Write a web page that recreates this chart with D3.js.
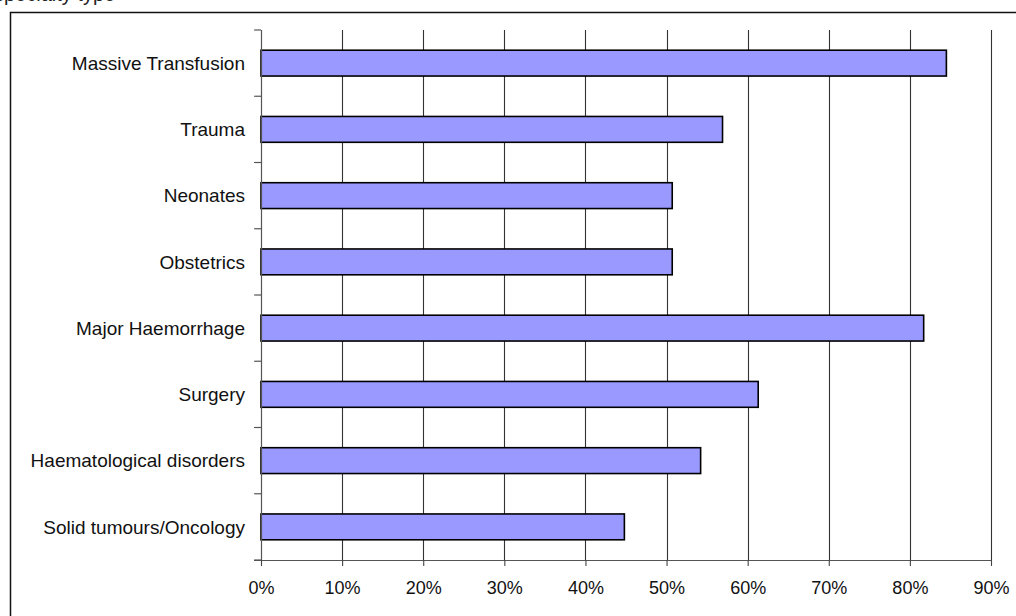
<!DOCTYPE html>
<html>
<head>
<meta charset="utf-8">
<script src="https://cdn.jsdelivr.net/npm/d3@7"></script>
<style>
  html, body { margin: 0; padding: 0; background: #fff; }
  svg { display: block; font-family: "Liberation Sans", Arial, sans-serif; }
</style>
</head>
<body>
<svg id="chart" width="1016" height="616"></svg>
<script>
// Share of responses per specialty
const categories = [
  "Massive Transfusion",
  "Trauma",
  "Neonates",
  "Obstetrics",
  "Major Haemorrhage",
  "Surgery",
  "Haematological disorders",
  "Solid tumours/Oncology"
];
const values = [84.5, 56.9, 50.7, 50.7, 81.7, 61.3, 54.2, 44.8];
const tickValues = [0, 10, 20, 30, 40, 50, 60, 70, 80, 90];

const svg = d3.select("#chart");

// Title line, mostly clipped by the top edge of the page
svg.append("text")
  .attr("x", -6).attr("y", 0.5)
  .attr("font-size", 20).attr("fill", "#222")
  .text("specialty type");

// Outer frame
svg.append("rect")
  .attr("x", 10.5).attr("y", 12.5)
  .attr("width", 1020).attr("height", 620)
  .attr("fill", "none").attr("stroke", "#111").attr("stroke-width", 1.5);

const plot = { left: 261, right: 991, top: 30, bottom: 560 };

const x = d3.scaleLinear().domain([0, 90]).range([plot.left, plot.right]);
const y = d3.scaleBand()
  .domain(categories)
  .range([plot.top, plot.bottom])
  .paddingInner(0.61)
  .paddingOuter(0.305);
const step = y.step();

// Vertical gridlines
svg.append("g")
  .selectAll("line")
  .data(tickValues.filter(d => d > 0))
  .join("line")
  .attr("x1", d => Math.round(x(d)) + 0.5).attr("x2", d => Math.round(x(d)) + 0.5)
  .attr("y1", plot.top).attr("y2", plot.bottom)
  .attr("stroke", "#333").attr("stroke-width", 1.1);

// Bars
svg.append("g")
  .selectAll("rect")
  .data(categories)
  .join("rect")
  .attr("x", x(0))
  .attr("y", d => y(d))
  .attr("width", (d, i) => x(values[i]) - x(0))
  .attr("height", y.bandwidth())
  .attr("fill", "#9999ff")
  .attr("stroke", "#000")
  .attr("stroke-width", 1.6);

// Category axis: band boundary ticks on the left edge
const yAxis = svg.append("g");
yAxis.append("line")
  .attr("x1", plot.left + 0.5).attr("x2", plot.left + 0.5)
  .attr("y1", plot.top).attr("y2", plot.bottom)
  .attr("stroke", "#555").attr("stroke-width", 1.2);
yAxis.selectAll("line.tick")
  .data(d3.range(categories.length + 1))
  .join("line")
  .attr("class", "tick")
  .attr("x1", plot.left - 7).attr("x2", plot.left)
  .attr("y1", i => plot.top + i * step).attr("y2", i => plot.top + i * step)
  .attr("stroke", "#555").attr("stroke-width", 1.2);
yAxis.selectAll("text")
  .data(categories)
  .join("text")
  .attr("x", 245)
  .attr("y", d => y(d) + y.bandwidth() / 2)
  .attr("dy", "0.35em")
  .attr("text-anchor", "end")
  .attr("font-size", 19)
  .attr("fill", "#111")
  .text(d => d);

// Value axis along the bottom
const xAxis = d3.axisBottom(x)
  .tickValues(tickValues)
  .tickFormat(d => d + "%")
  .tickSize(6)
  .tickPadding(15);
const gx = svg.append("g")
  .attr("transform", `translate(0,${plot.bottom})`)
  .call(xAxis);
gx.select(".domain").remove();
gx.insert("line", ":first-child")
  .attr("x1", plot.left - 7).attr("x2", plot.right)
  .attr("y1", 0.5).attr("y2", 0.5)
  .attr("stroke", "#555").attr("stroke-width", 1.2);
gx.selectAll(".tick line").attr("stroke", "#444").attr("stroke-width", 1.1);
gx.selectAll(".tick text")
  .attr("font-size", 18)
  .attr("font-family", "'Liberation Sans', Arial, sans-serif")
  .attr("fill", "#111");
</script>
</body>
</html>
